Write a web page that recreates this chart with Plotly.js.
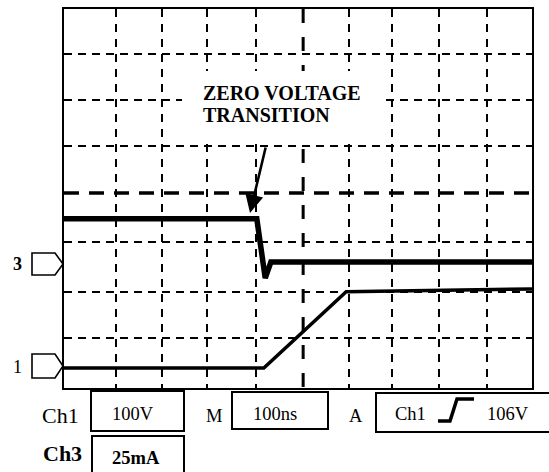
<!DOCTYPE html>
<html><head><meta charset="utf-8">
<script src="https://cdn.plot.ly/plotly-3.0.1.min.js"></script>
<style>html,body{margin:0;padding:0;background:#fff}#chart{width:549px;height:472px}</style>
</head><body><div id="chart"></div>
<script>
// Time in ns (100 ns/div, 10 divisions), level in screen divisions (0..8)
const ch3Time  = [0, 412, 430, 442, 1000];
const ch3Level = [3.57, 3.57, 2.32, 2.66, 2.66];
const ch1Time  = [0, 427, 603, 1000];
const ch1Level = [0.42, 0.42, 2.03, 2.09];
// graticule
const gridTimes  = [111, 209, 306, 410, 609, 701, 801, 904];
const gridLevels = [1.055, 2.026, 3.082, 5.108, 6.08, 7.05];
const centerTime = 511;
const centerLevel = 4.116;
// readout texts
const ch1Label = 'Ch1', ch1Scale = '100V';
const ch3Label = 'Ch3', ch3Scale = '25mA';
const timeLabel = 'M', timeScale = '100ns';
const trigLabel = 'A', trigSource = 'Ch1', trigLevel = '106V';
const noteLines = ['ZERO VOLTAGE', 'TRANSITION'];

const FONT = 'Liberation Serif, Times New Roman, serif';
const L = 64, R = 17, T = 9, B = 84, W = 549, H = 472;
const PW = W - L - R, PH = H - T - B;
const px = x => (x - L) / PW;          // pixel -> paper
const py = y => (H - B - y) / PH;

const traces = [
  {x: ch3Time, y: ch3Level, type: 'scatter', mode: 'lines',
   line: {color: '#000', width: 5.5}, hoverinfo: 'skip'},
  {x: ch1Time, y: ch1Level, type: 'scatter', mode: 'lines',
   line: {color: '#000', width: 3.5}, hoverinfo: 'skip'}
];

function box(x0, y0, x1, y1) {
  return {type: 'rect', xref: 'paper', yref: 'paper', x0: px(x0), x1: px(x1),
          y0: py(y1), y1: py(y0), line: {color: '#000', width: 2}, fillcolor: 'rgba(0,0,0,0)'};
}
function marker(yc, hh) {
  return {type: 'path', xref: 'paper', yref: 'paper', xsizemode: 'pixel', ysizemode: 'pixel',
          xanchor: 0, yanchor: py(yc),
          path: `M -32,-${hh} L -9,-${hh} L -1,0 L -9,${hh} L -32,${hh} Z`,
          line: {color: '#000', width: 1.6}, fillcolor: '#fff'};
}

const shapes = [
  {type: 'line', xref: 'x', yref: 'paper', x0: centerTime, x1: centerTime, y0: 1, y1: 0,
   line: {color: '#000', width: 3, dash: '14px,14px'}, layer: 'below'},
  {type: 'line', xref: 'paper', yref: 'y', x0: 0, x1: 1, y0: centerLevel, y1: centerLevel,
   line: {color: '#000', width: 3.5, dash: '15px,10px'}, layer: 'below'},
  {type: 'rect', xref: 'paper', yref: 'paper', x0: px(182), x1: px(386), y0: py(137), y1: py(71),
   line: {width: 0}, fillcolor: '#fff', layer: 'above'},
  box(91, 391, 184, 431),
  box(92, 436, 184, 482),
  box(232, 392, 328, 429),
  box(376, 393, 560, 432),
  {type: 'path', xref: 'paper', yref: 'paper',
   path: `M ${px(438)},${py(421)} L ${px(450)},${py(421)} L ${px(457)},${py(399)} L ${px(474)},${py(399)}`,
   line: {color: '#000', width: 3.5}},
  marker(264, 11),
  marker(366, 12)
];

function txt(s, x, y, size, bold, anchor) {
  return {xref: 'paper', yref: 'paper', x: px(x), y: py(y), text: bold ? '<b>' + s + '</b>' : s,
          showarrow: false, xanchor: anchor || 'center', yanchor: 'middle',
          font: {family: FONT, size: size, color: '#000'}};
}

const annotations = [
  txt(noteLines[0], 201, 93, 20, true, 'left'),
  txt(noteLines[1], 201, 115, 20, true, 'left'),
  {xref: 'paper', yref: 'paper', x: px(250), y: py(213), ax: 16, ay: -67, text: '',
   showarrow: true, arrowhead: 2, arrowsize: 1.4, arrowwidth: 2.6, arrowcolor: '#000'},
  txt('3', 17, 264, 18, true),
  txt('1', 17, 367, 18, false),
  txt(ch1Label, 60, 415, 22, false),
  txt(ch1Scale, 133, 414, 18.5, false),
  txt(timeLabel, 214, 416, 18.5, false),
  txt(timeScale, 275, 414, 18.5, false),
  txt(trigLabel, 356, 416, 18.5, false),
  txt(trigSource, 410, 414, 18.5, false),
  txt(trigLevel, 508, 414, 18.5, false),
  txt(ch3Label, 62, 453, 22, true),
  txt(ch3Scale, 136, 458, 18.5, true)
];

const layout = {
  width: W, height: H,
  margin: {l: L, r: R, t: T, b: B, pad: 0},
  paper_bgcolor: '#fff', plot_bgcolor: '#fff',
  showlegend: false,
  font: {family: FONT, color: '#000'},
  xaxis: {range: [0, 1000], tickvals: gridTimes, showticklabels: false, ticks: '',
          showgrid: true, gridcolor: '#000', gridwidth: 1.8, griddash: '8px,7px',
          zeroline: false, showline: true, mirror: true, linecolor: '#000', linewidth: 2,
          fixedrange: true},
  yaxis: {range: [0, 8], tickvals: gridLevels, showticklabels: false, ticks: '',
          showgrid: true, gridcolor: '#000', gridwidth: 1.8, griddash: '8px,6px',
          zeroline: false, showline: true, mirror: true, linecolor: '#000', linewidth: 2,
          fixedrange: true},
  shapes: shapes,
  annotations: annotations
};

Plotly.newPlot('chart', traces, layout, {staticPlot: true, displayModeBar: false});
</script>
</body></html>
